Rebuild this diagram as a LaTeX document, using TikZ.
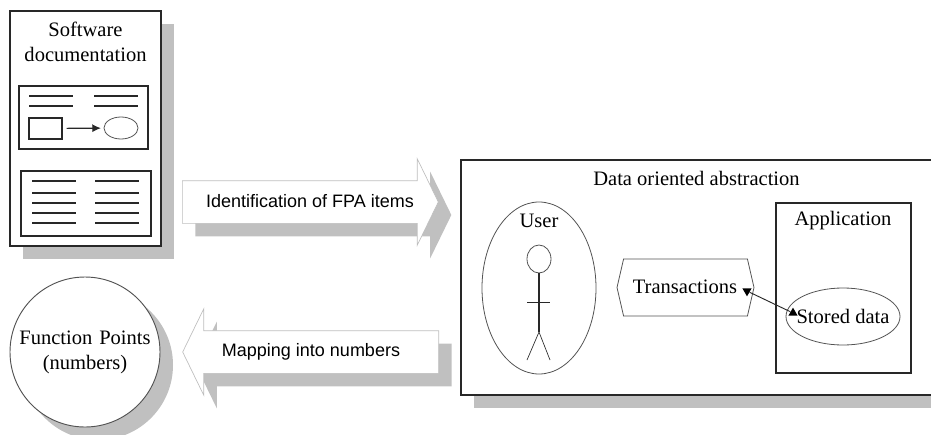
\documentclass[tikz,border=0pt]{standalone}
\usepackage{fontspec}
\setmainfont{Liberation Serif}
\newfontfamily\arrowfont{Liberation Sans}
\definecolor{myshadow}{RGB}{192,192,192}
\definecolor{myline}{RGB}{40,40,40}
\definecolor{myarrowline}{RGB}{190,190,190}
\usetikzlibrary{arrows.meta,positioning,shadows,shapes.geometric,shapes.arrows,shapes.symbols}
\tikzstyle{shadowed}=[drop shadow={shadow xshift=9.75pt,shadow yshift=-9.75pt,fill=myshadow,opacity=1}]
\tikzstyle{frame}=[draw=myline,fill=white,line width=0.9pt,inner sep=0pt]
\tikzstyle{blockarrow}=[single arrow,draw=myarrowline,fill=white,line width=0.5pt,inner xsep=0pt,inner ysep=9.75pt,minimum height=192pt,minimum width=64.5pt,text height=9pt,text depth=3pt,single arrow head extend=16.5pt,single arrow tip angle=128,anchor=tail]
\tikzstyle{arrowlabel}=[font=\arrowfont\fontsize{13.5pt}{16pt}\selectfont,inner sep=0pt]
\tikzstyle{oval}=[draw=myline!80,ellipse,line width=0.6pt,inner sep=0pt]
\tikzstyle{label}=[font=\fontsize{15.4pt}{18.6pt}\selectfont,inner sep=0pt,align=center]
\tikzstyle{tip}=[fill=black,regular polygon,regular polygon sides=3,minimum size=8pt,inner sep=0pt]
\begin{document}
\begin{tikzpicture}[x=0.75pt,y=-0.75pt,>={Latex[length=6.5pt,width=6pt]}]
\useasboundingbox (0,0) rectangle (931,435);
% documentation page
\node [frame,shadowed,minimum width=113.25pt,minimum height=176.25pt] (docpage) at (85.5,128.5) {};
\node [label,text width=110pt] (doctitle) at (85.5,42) {Software\\documentation};
\node [frame,minimum width=96.75pt,minimum height=47.25pt] (docbox1) at (83.5,117.5) {};
\node [frame,minimum width=97.5pt,minimum height=48.75pt] (docbox2) at (86,203.5) {};
\node [frame,minimum width=24.75pt,minimum height=15.75pt] (docrect) at (45.5,128.5) {};
\node [oval,minimum width=25.5pt,minimum height=16.5pt] (docoval) at (121,128) {};
\draw [->,line width=0.9pt,myline,shorten <=3pt,shorten >=2pt] (docrect) -- (docoval);
\draw [line width=0.8pt,myline] (29,96) -- (73,96) (94,96) -- (138,96)
  (29,106) -- (73,106) (94,106) -- (138,106)
  (32,181) -- (76,181) (95,181) -- (139,181)
  (32,193) -- (76,193) (95,193) -- (139,193)
  (32,203) -- (76,203) (95,203) -- (139,203)
  (32,213) -- (76,213) (95,213) -- (139,213)
  (32,223) -- (76,223) (95,223) -- (139,223);
% the two block arrows
\node [blockarrow,shadowed] (identify) at (182,202) {};
\node [arrowlabel] (identifytext) at (310,201) {Identification of FPA items};
\node [blockarrow,shadowed,shape border rotate=180] (mapping) at (439,352) {};
\node [arrowlabel] (mappingtext) at (311,352) {Mapping into numbers};
% result
\node [frame,shadowed,circle,draw=myline!80,line width=0.7pt,minimum size=112.5pt] (points) at (85,352) {};
\node [label,text width=110pt] (pointstext) at (85,352) {Function Points\\(numbers)};
% data oriented abstraction
\node [frame,shadowed,minimum width=360pt,minimum height=176.25pt] (abstraction) at (701,277.5) {};
\node [label] (abstracttitle) at (696.5,178) {Data oriented abstraction};
\node [oval,minimum width=85.5pt,minimum height=129pt] (user) at (539,288) {};
\node [label] (usertext) at (539,221) {User};
\node [oval,minimum width=18pt,minimum height=21pt] (head) at (539,259) {};
\coordinate (hip) at (539,332);
\draw [line width=0.8pt,myline] (head) -- (hip);
\draw [line width=0.7pt,myline] (527,302) -- (550,302);
\draw [line width=0.5pt,myline] (527,360) -- (hip) -- (550,360);
\node [signal,signal to=west and east,signal pointer angle=154,draw=myline!80,line width=0.6pt,inner sep=0pt,minimum width=102.75pt,minimum height=42.75pt] (transactions) at (685.5,287.5) {};
\node [label] (transtext) at (685,287) {Transactions};
\node [frame,minimum width=101.25pt,minimum height=127.5pt] (application) at (843.5,288) {};
\node [label] (apptext) at (843,221) {Application};
\node [oval,minimum width=85.5pt,minimum height=42.75pt] (stored) at (843,316.5) {};
\node [label] (storedtext) at (843,316) {Stored data};
\node [tip,shape border rotate=180] (tipa) at (747,291) {};
\node [tip] (tipb) at (793,313) {};
\draw [line width=0.7pt,myline] (tipa) -- (tipb);
\end{tikzpicture}
\end{document}
